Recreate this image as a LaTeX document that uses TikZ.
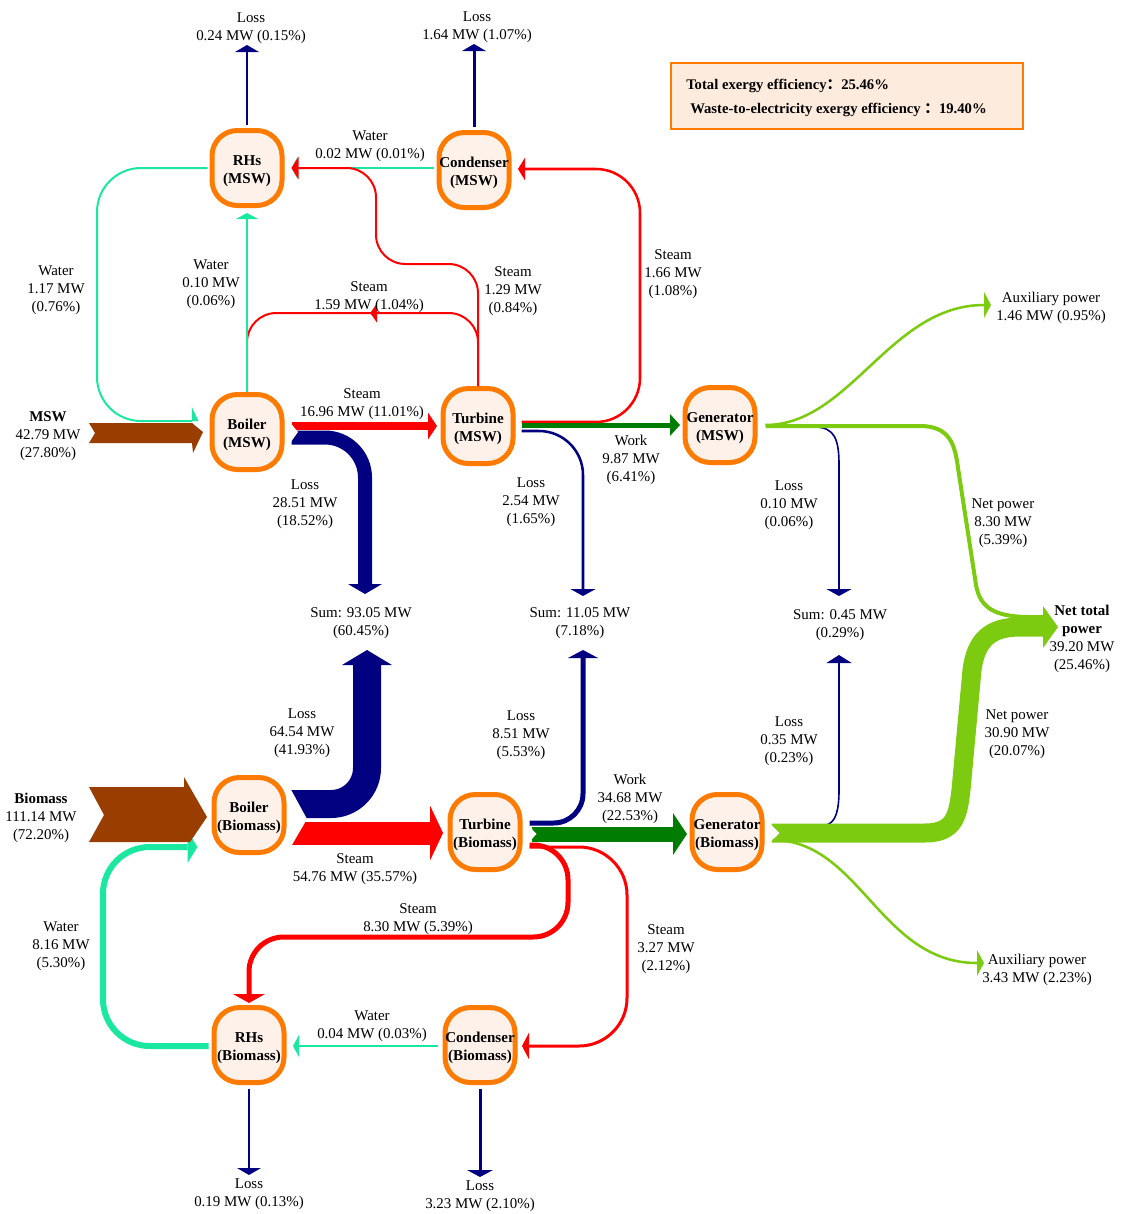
\documentclass[tikz,border=0pt]{standalone}
\usepackage{fontspec}
\setmainfont{Liberation Serif}
\newfontfamily\cjkfont{Noto Sans CJK SC}
\usetikzlibrary{arrows.meta,calc,decorations.markings}
\definecolor{orng}{HTML}{FF7A00}
\definecolor{peach}{HTML}{FDF1EA}
\definecolor{peachB}{HTML}{FDEBDD}
\definecolor{navyC}{HTML}{000080}
\definecolor{redC}{HTML}{FF0000}
\definecolor{wgreen}{HTML}{1AE8A0}
\definecolor{dgreen}{HTML}{007C00}
\definecolor{lgreen}{HTML}{7CCB10}
\definecolor{brownC}{HTML}{993D00}
\tikzset{
 unit/.style={draw=orng,line width=3.75pt,fill=peach,rounded corners=19pt,minimum width=52.5pt,minimum height=56.25pt,inner sep=0pt,
   label={[utext]center:{#1}}},
 utext/.style={align=center,inner sep=0pt,yshift=-2.25pt,font=\bfseries\fontsize{11.3}{13.5}\selectfont},
 lbl/.style={align=center,inner sep=0pt,yshift=-2pt,font=\fontsize{11.2}{13.5}\selectfont},
 efft/.style={inner sep=0pt,anchor=west,font=\bfseries\fontsize{11}{13}\selectfont},
 tri/.style 2 args={-{Triangle[length=#1,width=#2,line width=0pt]}},
}
\begin{document}
\begin{tikzpicture}[x=0.75pt,y=-0.75pt]
\useasboundingbox (0,0) rectangle (1122,1214);

% ---------------- units
\node[unit={RHs\\(MSW)}] (rhsM)  at (247,168) {};
\node[unit={Condenser\\(MSW)}] (condM) at (474,170) {};
\node[unit={Boiler\\(MSW)}] (boilM) at (247,432) {};
\node[unit={Turbine\\(MSW)}] (turbM) at (478,426) {};
\node[unit={Generator\\(MSW)}] (genM)  at (720,425) {};
\node[unit={Boiler\\(Biomass)}] (boilB) at (249,815) {};
\node[unit={Turbine\\(Biomass)}] (turbB) at (485,832) {};
\node[unit={Generator\\(Biomass)}] (genB)  at (727,832) {};
\node[unit={RHs\\(Biomass)}] (rhsB)  at (249,1045) {};
\node[unit={Condenser\\(Biomass)}] (condB) at (480,1045) {};

% ---------------- efficiency box
\node[draw=orng,line width=1.5pt,fill=peachB,minimum width=264pt,minimum height=49pt,inner sep=0pt] (eff) at (846.5,96) {};
\node[efft] (effA) at (686,86) {Total exergy efficiency{\cjkfont ：}25.46\%};
\node[efft] (effB) at (690,110) {Waste-to-electricity exergy efficiency {\cjkfont ：}19.40\%};

% ---------------- free ends
\coordinate (lossRMe) at (247,45);
\coordinate (lossCMe) at (474,44);
\coordinate (sumAt) at (365,594);
\coordinate (sumAb) at (367,650);
\coordinate (sumBt) at (583,596);
\coordinate (sumBb) at (583,650);
\coordinate (sumCt) at (839,596);
\coordinate (sumCb) at (839,655);
\coordinate (auxMe) at (991,305);
\coordinate (auxBe) at (984,963);
\coordinate (ntp) at (1058,627);
\coordinate (lossRBe) at (249,1175);
\coordinate (lossCBe) at (480,1177);

% ---------------- MSW upper part
\draw[navyC,line width=1.5pt,tri={5.25pt}{18pt}] ($(rhsM.north)+(0,-3)$) -- (lossRMe);
\draw[navyC,line width=2.25pt,tri={5.25pt}{18pt}] ($(condM.north)+(0,-3)$) -- (lossCMe);
\draw[wgreen,line width=1.5pt,tri={4.5pt}{16.5pt}] ($(condM.west)+(-3,-2)$) -- ($(rhsM.east)+(7,0)$);
\draw[redC,line width=1.5pt,rounded corners=22pt,tri={5.25pt}{17pt}]
  (turbM.north) -- (turbM.north |- 0,264) -- (376,264) -- (376,168) -- ($(rhsM.east)+(7,0)$);
\draw[redC,line width=1.5pt,rounded corners=22pt,postaction={decorate},
  decoration={markings,mark=at position 0.47 with {\arrow{Triangle[length=5.25pt,width=15pt,line width=0pt]}}}]
  (turbM.north) -- (turbM.north |- 0,313) -- (boilM.north |- 0,313) -- (boilM.north);
\draw[wgreen,line width=1.5pt,tri={4.5pt}{16.5pt}] (boilM.north) -- ($(rhsM.south)+(0,5)$);

% MSW input
\fill[brownC,shift={(boilM.west)}] (-120.5,-9) -- (-17.5,-9) -- (-6.5,0) -- (-16.5,21) -- (-17.5,11) -- (-120.5,11) -- (-114.5,1) -- cycle;
\draw[wgreen,line width=1.5pt,rounded corners=33pt,-{Triangle[length=5pt,width=21pt,line width=0pt,harpoon]}]
  ($(rhsM.west)+(-2,0)$) -- (97,168) -- (97,421) -- ($(boilM.west)+(-11,-11)$);

% boiler MSW outputs
\draw[redC,line width=6pt,tri={6.75pt}{20.25pt}] ($(boilM.east)+(7,-6)$) -- ($(turbM.west)+(-3.5,0)$);
\draw[navyC,line width=10.5pt,rounded corners=30pt,tri={7.5pt}{25.5pt}] ($(boilM.east)+(7,5.5)$) -- (sumAt |- 0,437.5) -- (sumAt);
\fill[white,shift={(boilM.east)}] (3.5,-12) -- (13.5,0) -- (3.5,14) -- cycle;

% turbine MSW outputs
\draw[redC,line width=1.9pt,rounded corners=33pt,tri={5.25pt}{17pt}] ($(turbM.east)+(6,-4)$) -- (640,422) -- (640,169) -- ($(condM.east)+(6.5,-1)$);
\draw[navyC,line width=1.9pt,rounded corners=33pt,tri={5.25pt}{19pt}] ($(turbM.east)+(6,5)$) -- (sumBt |- 0,431) -- (sumBt);
\draw[dgreen,line width=3.75pt,tri={7.5pt}{16.5pt}] ($(turbM.east)+(6,-1)$) -- ($(genM.west)+(-2.5,0)$);

% generator MSW outputs
\draw[navyC,line width=1.2pt,tri={5.25pt}{19pt}] ($(genM.east)+(57,2)$) .. controls (835,427) and (839,440) .. (839,465) -- (sumCt);
\draw[lgreen,line width=1.9pt,tri={5.25pt}{19.5pt}] ($(genM.east)+(8,0)$) .. controls (850,425) and (890,305) .. (auxMe);
\draw[lgreen,line width=3pt] ($(genM.east)+(8,1)$) -- (920,426) .. controls (950,426) and (955,445) .. (958,468) -- (976,585) .. controls (980,608) and (995,617) .. (1030,617) -- ($(ntp)+(-12,-10)$);

% ---------------- Biomass part
\draw[wgreen,line width=4.5pt,rounded corners=35pt,tri={7.5pt}{24pt}] ($(rhsB.west)+(-3,1)$) -- (103,1046) -- (103,847) -- ($(boilB.west)+(-14,32)$);
\fill[brownC,shift={(boilB.west)}] (-122.5,-28) -- (-27.5,-28) -- (-27.5,-38) -- (-4.5,2) -- (-21.5,27) -- (-122.5,27) -- (-107.5,0) -- cycle;

\draw[navyC,line width=21pt,rounded corners=27pt,tri={11.25pt}{37.5pt}] ($(boilB.east)+(4.5,-11)$) -- (sumAb |- 0,804) -- (sumAb);
\draw[redC,line width=17.25pt,tri={9.75pt}{41.25pt}] ($(boilB.east)+(4.5,18)$) -- ($(turbB.west)+(-4.5,1)$);
\fill[white,shift={(boilB.east)}] (2.5,-29) -- (20.5,4) -- (2.5,35) -- cycle;

\draw[navyC,line width=3.75pt,rounded corners=22pt,tri={6pt}{22.5pt}] ($(turbB.east)+(7,-9)$) -- (sumBb |- 0,823) -- (sumBb);
\draw[redC,line width=3.75pt,rounded corners=26pt,tri={6.75pt}{24pt}] ($(turbB.east)+(7,13)$) -- (568,845) -- (568,937) -- (rhsB.north |- 0,937) -- ($(rhsB.north)+(0,-2)$);
\draw[redC,line width=2.25pt,rounded corners=36pt,tri={5.25pt}{20pt}] ($(turbB.east)+(7,15)$) -- (627,847) -- (627,1046) -- ($(condB.east)+(4.5,1)$);
\draw[dgreen,line width=11.25pt,tri={10.5pt}{31.5pt}] ($(turbB.east)+(9,2)$) -- ($(genB.west)+(-2.5,2)$);
\fill[white,shift={(turbB.east)}] (7,-5.5) -- (14,2) -- (7,9.5) -- cycle;

\draw[wgreen,line width=1.5pt,tri={4.5pt}{16.5pt}] ($(condB.west)+(-5,1)$) -- ($(rhsB.east)+(6.5,1)$);
\draw[navyC,line width=1.5pt,tri={5.25pt}{18pt}] ($(rhsB.south)+(0,4)$) -- (lossRBe);
\draw[navyC,line width=2.25pt,tri={5.25pt}{19.5pt}] ($(condB.south)+(0,4)$) -- (lossCBe);

% generator Biomass outputs
\draw[navyC,line width=1.2pt,tri={6pt}{19pt}] ($(genB.east)+(62,-7)$) .. controls (836,822) and (839,810) .. (839,790) -- (sumCb);
\draw[lgreen,line width=14.25pt,tri={11.25pt}{31.5pt}] ($(genB.east)+(7,1)$) -- (925,833) .. controls (955,833) and (958,815) .. (961,790) -- (972,670) .. controls (976,640) and (990,627) .. (1020,627) -- (ntp);
\fill[white,shift={(genB.east)}] (5,-9) -- (15,1) -- (5,11) -- cycle;
\draw[lgreen,line width=1.9pt,tri={5.25pt}{19.5pt}] ($(genB.east)+(8,8)$) .. controls (860,840) and (880,963) .. (auxBe);

% ---------------- labels
\node[lbl] (l1) at (251,25.5) {Loss\\0.24 MW (0.15\%)};
\node[lbl] (l2) at (477,24.5) {Loss\\1.64 MW (1.07\%)};
\node[lbl] (l3) at (370,144) {Water\\0.02 MW (0.01\%)};
\node[lbl] (l4) at (56,288) {Water\\1.17 MW\\(0.76\%)};
\node[lbl] (l5) at (211,282) {Water\\0.10 MW\\(0.06\%)};
\node[lbl] (l6) at (369,294) {Steam\\1.59 MW (1.04\%)};
\node[lbl] (l7) at (513,288) {Steam\\1.29 MW\\(0.84\%)};
\node[lbl] (l8) at (673,271) {Steam\\1.66 MW\\(1.08\%)};
\node[lbl] (l9) at (1051,305.5) {Auxiliary power\\1.46 MW (0.95\%)};
\node[lbl] (l10) at (48,433) {\textbf{MSW}\\42.79 MW\\(27.80\%)};
\node[lbl] (l11) at (362,401) {Steam\\16.96 MW (11.01\%)};
\node[lbl] (l12) at (631,457) {Work\\9.87 MW\\(6.41\%)};
\node[lbl] (l13) at (305,502) {Loss\\28.51 MW\\(18.52\%)};
\node[lbl] (l14) at (531,500) {Loss\\2.54 MW\\(1.65\%)};
\node[lbl] (l15) at (789,503) {Loss\\0.10 MW\\(0.06\%)};
\node[lbl] (l16) at (1003,521) {Net power\\8.30 MW\\(5.39\%)};
\node[lbl] (l17) at (361,620) {Sum: 93.05 MW\\(60.45\%)};
\node[lbl] (l18) at (580,620) {Sum: 11.05 MW\\(7.18\%)};
\node[lbl] (l19) at (840,622) {Sum: 0.45 MW\\(0.29\%)};
\node[lbl] (l20) at (1082,636) {\textbf{Net total}\\\textbf{power}\\39.20 MW\\(25.46\%)};
\node[lbl] (l21) at (302,731) {Loss\\64.54 MW\\(41.93\%)};
\node[lbl] (l22) at (521,733) {Loss\\8.51 MW\\(5.53\%)};
\node[lbl] (l23) at (789,739) {Loss\\0.35 MW\\(0.23\%)};
\node[lbl] (l24) at (1017,732) {Net power\\30.90 MW\\(20.07\%)};
\node[lbl] (l25) at (630,796) {Work\\34.68 MW\\(22.53\%)};
\node[lbl] (l26) at (41,815) {\textbf{Biomass}\\111.14 MW\\(72.20\%)};
\node[lbl] (l27) at (355,866) {Steam\\54.76 MW (35.57\%)};
\node[lbl] (l28) at (418,916) {Steam\\8.30 MW (5.39\%)};
\node[lbl] (l29) at (666,946) {Steam\\3.27 MW\\(2.12\%)};
\node[lbl] (l30) at (61,944) {Water\\8.16 MW\\(5.30\%)};
\node[lbl] (l31) at (1037,967) {Auxiliary power\\3.43 MW (2.23\%)};
\node[lbl] (l32) at (372,1024) {Water\\0.04 MW (0.03\%)};
\node[lbl] (l33) at (249,1192) {Loss\\0.19 MW (0.13\%)};
\node[lbl] (l34) at (480,1194) {Loss\\3.23 MW (2.10\%)};
\end{tikzpicture}
\end{document}
